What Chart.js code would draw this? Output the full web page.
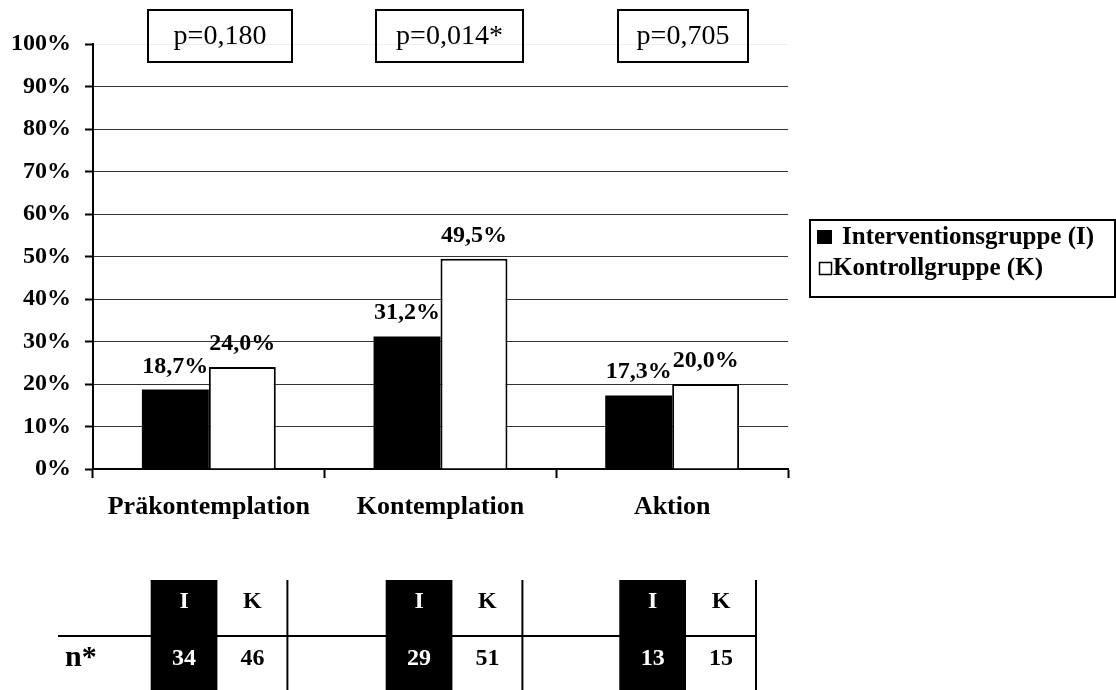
<!DOCTYPE html>
<html>
<head>
<meta charset="utf-8">
<script src="https://cdn.jsdelivr.net/npm/chart.js@4"></script>
<style>
  body { margin: 0; background: #fff; }
  #wrap { position: relative; width: 1116px; height: 690px; }
</style>
</head>
<body>
<div id="wrap"><canvas id="chart"></canvas></div>
<script>
/* =====================
  Data
===================== */
var stages = ['Präkontemplation', 'Kontemplation', 'Aktion']
var intervention = [18.7, 31.2, 17.3]
var kontrolle = [24.0, 49.5, 20.0]
var seriesNames = ['Interventionsgruppe (I)', 'Kontrollgruppe (K)']
var pValues = ['p=0,180', 'p=0,014*', 'p=0,705']
var groupHeads = ['I', 'K']
var nIntervention = [34, 29, 13]
var nKontrolle = [46, 51, 15]
var nLabel = 'n*'

var serif = '"Liberation Serif", "Times New Roman", serif'

/* =====================
  Layout (pixels)
===================== */
var pBoxes = [[148, 10, 144, 52], [376, 10, 147, 52], [618, 10, 130, 52]]
var tableI = [150.7, 385.7, 619.3]
var cellW = 66.7
var kW = 70
var tableTop = 580
var tableLineY = 636

// value labels above bars
var valueLabels = {
  id: 'valueLabels',
  afterDatasetsDraw: function (chart) {
    var ctx = chart.ctx
    ctx.save()
    ctx.font = 'bold 24px ' + serif
    ctx.fillStyle = '#000'
    ctx.textAlign = 'center'
    ctx.textBaseline = 'alphabetic'
    chart.data.datasets.forEach(function (ds, i) {
      chart.getDatasetMeta(i).data.forEach(function (bar, j) {
        var txt = ds.data[j].toFixed(1).replace('.', ',') + '%'
        ctx.fillText(txt, bar.x, bar.y - 17)
      })
    })
    ctx.restore()
  }
}

// p-value boxes, legend box and n table
var extras = {
  id: 'extras',
  afterDraw: function (chart) {
    var ctx = chart.ctx
    ctx.save()
    ctx.strokeStyle = '#000'
    ctx.fillStyle = '#000'

    // p boxes
    ctx.lineWidth = 2
    ctx.font = '28px ' + serif
    ctx.textAlign = 'center'
    ctx.textBaseline = 'middle'
    pBoxes.forEach(function (b, i) {
      ctx.strokeRect(b[0], b[1], b[2], b[3])
      ctx.fillText(pValues[i], b[0] + b[2] / 2, b[1] + b[3] / 2 + 1)
    })

    // legend
    ctx.strokeRect(810, 220, 305, 77)
    var ds = chart.data.datasets
    ctx.fillStyle = ds[0].backgroundColor
    ctx.fillRect(817, 230, 15, 14)
    ctx.lineWidth = 1.5
    ctx.strokeRect(819.5, 262.5, 12, 12)
    ctx.fillStyle = '#000'
    ctx.font = 'bold 25px ' + serif
    ctx.textAlign = 'left'
    ctx.fillText(ds[0].label, 842, 238)
    ctx.fillText(ds[1].label, 833, 269)

    // table
    ctx.lineWidth = 2
    ctx.beginPath()
    ctx.moveTo(58, tableLineY)
    ctx.lineTo(tableI[2] + cellW + kW, tableLineY)
    ctx.stroke()
    ctx.font = 'bold 30px ' + serif
    ctx.fillText(nLabel, 65, 658)
    ctx.font = 'bold 24px ' + serif
    ctx.textAlign = 'center'
    tableI.forEach(function (x, i) {
      ctx.fillStyle = '#000'
      ctx.fillRect(x, tableTop, cellW, 690 - tableTop)
      var vx = x + cellW + kW
      ctx.beginPath()
      ctx.moveTo(vx, tableTop)
      ctx.lineTo(vx, 690)
      ctx.stroke()
      ctx.fillStyle = '#fff'
      ctx.fillText(groupHeads[0], x + cellW / 2, 602)
      ctx.fillText(String(nIntervention[i]), x + cellW / 2, 659)
      ctx.fillStyle = '#000'
      ctx.fillText(groupHeads[1], x + cellW + kW / 2, 602)
      ctx.fillText(String(nKontrolle[i]), x + cellW + kW / 2, 659)
    })
    ctx.restore()
  }
}

/* =====================
  Chart
===================== */
var ctx = document.getElementById('chart').getContext('2d')
var chart = new Chart(ctx, {
  type: 'bar',
  data: {
    labels: stages,
    datasets: [{
      label: seriesNames[0],
      data: intervention,
      backgroundColor: '#000',
      borderColor: '#000',
      borderWidth: 0
    }, {
      label: seriesNames[1],
      data: kontrolle,
      backgroundColor: '#fff',
      borderColor: '#000',
      borderWidth: 2
    }]
  },
  options: {
    responsive: true,
    maintainAspectRatio: false,
    animation: false,
    layout: { padding: { top: 44, right: 328, left: 0, bottom: 0 } },
    plugins: {
      legend: { display: false },
      tooltip: { enabled: false }
    },
    datasets: {
      bar: { categoryPercentage: 0.578, barPercentage: 1 }
    },
    scales: {
      x: {
        offset: true,
        grid: {
          offset: true,
          drawOnChartArea: false,
          drawTicks: true,
          tickLength: 9,
          tickColor: '#000',
          tickWidth: 2
        },
        border: { display: true, color: '#000', width: 2 },
        ticks: {
          color: '#000',
          padding: 14,
          font: { family: serif, size: 26, weight: 'bold' }
        },
        afterFit: function (scale) { scale.height = 690 - 469 }
      },
      y: {
        min: 0,
        max: 100,
        ticks: {
          stepSize: 10,
          color: '#000',
          padding: 14,
          font: { family: serif, size: 24, weight: 'bold' },
          callback: function (v) { return v + '%' }
        },
        grid: {
          color: function (c) { return c.tick && c.tick.value === 100 ? '#eeeeee' : '#333' },
          lineWidth: 1,
          tickLength: 8,
          tickColor: '#000',
          tickWidth: 2
        },
        border: { display: true, color: '#000', width: 2 },
        afterFit: function (scale) { scale.width = 93 }
      }
    }
  },
  plugins: [valueLabels, extras]
})
</script>
</body>
</html>
